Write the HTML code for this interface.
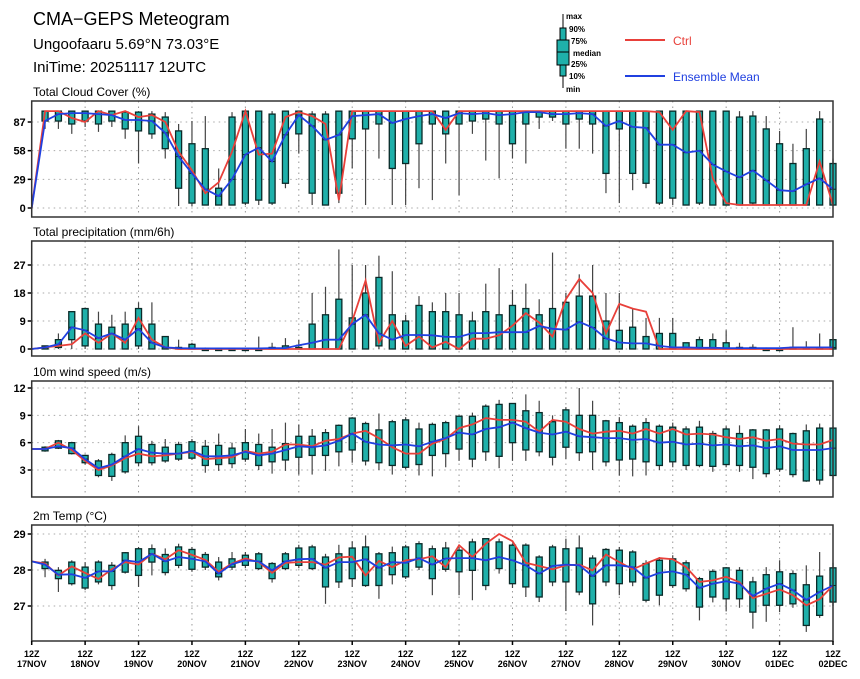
<!DOCTYPE html>
<html><head><meta charset="utf-8"><style>
body{margin:0;background:#fff;width:860px;height:679px;overflow:hidden}
svg{display:block;font-family:"Liberation Sans",sans-serif}
</style></head><body>
<svg id="c" width="860" height="679" viewBox="0 0 860 679">
<text x="33" y="25" font-size="18">CMA−GEPS Meteogram</text>
<text x="33" y="49" font-size="15">Ungoofaaru 5.69°N 73.03°E</text>
<text x="33" y="72" font-size="15">IniTime: 20251117 12UTC</text>
<g font-size="8" font-weight="bold">
<line x1="563" y1="14" x2="563" y2="88" stroke="#000" stroke-width="1"/>
<rect x="560" y="28" width="6" height="48" fill="#1fb0aa" stroke="#000"/>
<rect x="557" y="40" width="12" height="25" fill="#1fb0aa" stroke="#000"/>
<line x1="557" y1="52" x2="569" y2="52" stroke="#000"/>
<text x="566" y="19">max</text><text x="569" y="32">90%</text><text x="571" y="44">75%</text>
<text x="573" y="56">median</text><text x="571" y="67">25%</text><text x="569" y="79">10%</text><text x="566" y="92">min</text>
<line x1="625" y1="40" x2="665" y2="40" stroke="#e8403a" stroke-width="2"/>
<text x="673" y="45" font-size="12" font-weight="normal" fill="#e8403a">Ctrl</text>
<line x1="625" y1="76" x2="665" y2="76" stroke="#2040e0" stroke-width="2"/>
<text x="673" y="81" font-size="12" font-weight="normal" fill="#2040e0">Ensemble Mean</text>
</g>
</svg>
<script>
const dayLabels=["17NOV","18NOV","19NOV","20NOV","21NOV","22NOV","23NOV","24NOV","25NOV","26NOV","27NOV","28NOV","29NOV","30NOV","01DEC","02DEC"];
// Cloud cover
const cloudCtrl=[0,98,98,91,87,98,94,98,92,94,87,57,38,15,26,57,98,54,55,92,97,93,85,8,98,98,98,98,98,98,98,79,98,98,98,98,98,98,98,98,98,98,98,98,98,98,98,97,79,98,97,30,5,3,3,3,3,3,3,47,3];
const cloudMean=[0,88,95,96,96,95,94,89,89,88,76,52,35,19,12,29,54,61,47,74,94,83,69,74,93,94,95,86,90,93,95,91,96,95,96,94,95,97,97,95,95,96,95,83,88,82,81,64,64,56,58,44,37,31,38,28,18,17,24,30,19];
const cloudLo=[80,80,75,82,77,82,70,45,70,50,2,2,3,3,3,3,3,3,20,55,3,3,5,40,3,50,3,3,20,8,45,13,75,48,30,50,45,80,88,60,60,55,15,5,18,20,3,3,3,3,3,3,3,3,3,3,3,3,3,3];
const cloudQ1=[88,88,85,88,85,88,80,78,75,60,20,5,3,3,3,5,8,5,25,75,15,3,15,70,80,85,40,45,65,85,75,85,88,90,85,65,85,92,92,85,90,85,35,80,35,25,5,10,3,5,3,3,3,5,3,3,3,3,3,3];
const cloudQ3=[98,98,98,98,98,98,97,97,95,92,78,65,60,20,92,98,98,95,98,98,95,95,98,98,98,98,98,98,98,98,98,98,98,98,98,98,98,98,98,98,98,98,98,98,98,98,98,98,98,98,98,98,92,93,80,65,45,60,90,45];
const cloudHi=[98,98,98,98,98,98,98,98,98,97,85,88,93,40,97,98,98,98,98,98,98,98,98,98,98,98,98,98,98,98,98,98,98,98,98,98,98,98,98,98,98,98,98,98,98,98,98,98,98,98,98,98,98,98,93,78,65,80,98,50];
// Precipitation
const precCtrl=[0,0.5,1,1.5,5,2,5,2,10,3,0.5,0,0,0,0,0,0,0,0,0,0,0,0,0,9,22,2,9,1,4,0.5,2.3,0,3.3,3.3,4.4,7.5,11.5,8.5,4,16,22.5,18,5,14.5,13,12,0,0,0,0,0,0,0,0,0,0,0,0,0,0];
const precMean=[0,0.5,1.5,7,6,3.5,5,3,6.5,2,0.5,0.3,0.2,0.2,0.2,0.2,0.2,0.2,0.3,0.3,1.2,2,3,3,8,11,5,3,4.5,4.5,4.4,3.9,3.9,5.1,5.1,5.4,5.4,5.4,7.4,6.5,6.2,8.7,6.9,3.4,2.1,1.8,1.8,1,0.5,0.5,0.4,0.4,0.3,0.3,0.3,0.3,0.3,0.5,0.5,0.5,0.5];
const precLo=[0,0,0,0,0,0,0,0,0,0,0,0,0,0,0,0,0,0,0,0,0,0,0,0,0,0,0,0,0,0,0,0,0,0,0,0,0,0,0,0,0,0,0,0,0,0,0,0,0,0,0,0,0,0,0,0,0,0,0,0];
const precQ1=[0,0.5,3,1,0,0,0,1,0,0,0,0,0,0,0,0,0,0,0,0,0,0,0,0,0,1,0,0,0,0,0,0,0,0,0,0,0,0,0,0,0,0,0,0,0,0,0,0,0,0,0,0,0,0,0,0,0,0,0,0];
const precQ3=[1,3,12,13,8,7,8,13,8,4,0.5,1.5,0,0,0,0,0,0.5,1,0.5,8,11,16,10,18,23,11,9,14,12,12,11,9,12,11,14,13,11,13,15,17,17,9,6,7,4,5,5,2,3,3,2,0.5,0.5,0,0,0.5,0.5,0.5,3];
const precHi=[1,5,12,13,12,11,12,15,15,4,3,2,0.5,0.3,0,0,4,2,3.5,3,18,20,32,27,27,30,25,11,17,15,18,18,12,21,26,19,21,16,31,18,24,27,18,18,13,10,10,10,2,4,5,6,2,1.5,0.5,0,7,2.5,5,3];
// Wind speed
const windCtrl=[5.3,5.3,6.0,5.2,4.0,3.0,3.5,4.3,4.8,4.5,4.6,4.8,5.0,4.2,4.3,4.4,5.1,4.8,5.0,5.8,5.8,5.6,6.2,6.4,7.0,7.3,6.5,5.5,4.8,4.8,5.9,6.4,7.6,8.0,8.7,8.5,8.5,8.3,7.2,8.5,8.3,7.5,7.0,7.2,7.3,7.0,7.5,7.0,7.5,6.9,7.0,6.9,6.6,6.4,6.6,6.2,6.4,5.9,5.8,5.8,6.3];
const windMean=[5.3,5.3,5.6,5.4,4.2,3.2,3.6,4.5,5.3,4.9,4.8,4.8,5.1,4.5,4.5,4.6,5.0,4.6,4.8,5.2,5.6,5.5,5.7,6.2,7.0,6.1,5.8,5.7,5.8,5.6,6.1,6.5,7.1,6.9,7.5,7.7,8.2,7.6,7.1,6.9,7.2,6.7,6.6,6.5,6.5,6.3,6.4,6.0,6.1,5.8,5.9,5.7,5.8,5.6,5.7,5.4,5.6,5.2,5.2,5.2,5.4];
const windLo=[5.0,5.3,4.7,3.6,2.2,1.8,2.6,3.4,3.5,3.8,4.0,4.1,2.7,2.9,3.2,3.9,3.0,2.6,2.9,2.5,2.5,2.9,3.4,3.8,3.5,3.0,2.5,3.1,2.4,2.3,3.3,4.0,3.3,4.0,3.2,4.0,4.0,4.5,3.5,4.2,4.0,3.0,3.4,2.4,2.3,2.4,3.0,3.3,3.0,3.3,2.8,3.3,2.8,2.0,2.2,2.8,2.2,1.7,1.4,2.0];
const windQ1=[5.1,5.4,4.8,3.8,2.4,2.3,2.8,3.8,3.8,4.0,4.2,4.3,3.5,3.6,3.7,4.2,3.5,3.9,4.1,4.4,4.6,4.6,5.0,5.2,4.0,3.8,3.5,3.3,3.6,4.6,4.8,5.3,4.2,5.0,4.5,6.0,5.2,5.0,4.4,5.5,4.9,5.0,3.9,4.1,4.2,3.9,3.5,3.9,3.5,3.5,3.4,3.6,3.5,3.3,2.6,3.1,2.5,1.8,1.9,2.4];
const windQ3=[5.5,6.2,6.0,4.6,4.0,4.7,6.0,6.7,5.8,5.5,5.8,6.1,5.6,5.7,5.4,6.0,5.8,5.5,5.9,6.7,6.7,7.1,7.9,8.7,8.1,7.4,8.3,8.5,7.5,8.0,8.2,8.9,8.9,10.0,10.2,10.3,9.5,9.3,8.3,9.6,9.0,9.0,8.4,8.2,7.8,8.2,7.8,7.7,7.5,7.7,7.0,7.5,7.0,7.4,7.4,7.5,7.0,7.3,7.6,7.6];
const windHi=[5.6,6.3,6.1,4.7,4.2,4.9,6.8,7.8,6.2,6.4,6.1,6.4,6.3,7.0,6.0,7.5,7.0,7.5,8.2,8.0,7.5,7.5,8.0,8.8,8.3,9.2,8.5,8.8,8.2,8.2,8.4,9.0,9.3,10.2,10.7,10.3,11.3,10.6,9.0,9.9,12.0,10.6,8.5,8.8,8.0,8.7,8.0,8.2,7.8,8.4,7.3,7.8,7.9,7.5,7.5,7.9,7.1,8.0,8.1,7.8];
// 2m temperature
const tempCtrl=[28.24,28.18,27.85,28.1,27.92,27.75,28.02,28.22,28.15,28.45,28.3,28.55,28.42,28.28,27.95,28.18,28.32,28.22,27.92,28.2,28.22,28.22,28.15,28.35,28.37,27.85,28.25,28.08,28.27,28.3,28.38,28.08,28.69,28.36,28.73,29.0,28.8,28.2,28.11,28.02,28.13,28.15,27.99,28.43,28.22,28.02,28.18,28.33,28.3,28.08,27.67,27.71,27.81,27.66,27.22,27.34,27.46,27.3,27.02,27.19,27.57];
const tempMean=[28.24,28.15,27.87,27.88,27.78,27.96,27.96,28.27,28.22,28.45,28.24,28.36,28.31,28.24,27.9,28.16,28.27,28.24,27.99,28.24,28.3,28.31,28.06,28.22,28.22,28.3,28.06,28.22,28.2,28.33,28.15,28.32,28.33,28.33,28.27,28.36,28.27,28.13,27.9,28.11,28.15,28.13,27.83,28.13,28.13,28.08,27.78,27.92,27.96,27.87,27.5,27.62,27.69,27.62,27.28,27.48,27.62,27.44,27.17,27.39,27.57];
const tempLo=[27.8,27.39,27.57,27.44,27.6,27.45,27.9,27.53,27.85,27.85,28.05,27.95,28.0,27.71,28.0,28.05,28.0,27.65,28.0,28.05,28.0,27.06,27.5,27.53,27.53,27.2,27.6,27.75,28.0,27.3,27.95,27.3,27.16,27.44,27.9,27.5,27.25,27.11,27.55,26.86,27.3,26.46,27.55,27.3,27.55,27.1,27.02,27.5,27.4,26.6,27.1,26.85,26.95,26.37,26.56,26.83,26.95,26.28,26.67,27.0];
const tempQ1=[28.04,27.76,27.62,27.5,27.67,27.57,27.94,27.85,28.22,27.93,28.13,28.02,28.08,27.81,28.08,28.13,28.04,27.76,28.04,28.13,28.04,27.53,27.67,27.76,27.57,27.57,27.87,27.81,28.08,27.76,28.02,27.95,27.99,27.57,28.04,27.62,27.53,27.25,27.67,27.67,27.39,27.06,27.67,27.62,27.67,27.16,27.3,27.57,27.48,26.97,27.25,27.2,27.2,26.83,27.02,27.02,27.06,26.46,26.74,27.11];
const tempQ3=[28.22,27.99,28.22,28.08,28.22,28.13,28.48,28.59,28.59,28.43,28.64,28.57,28.43,28.22,28.31,28.41,28.45,28.18,28.45,28.61,28.64,28.36,28.45,28.61,28.64,28.45,28.48,28.64,28.73,28.59,28.61,28.55,28.78,28.87,28.78,28.69,28.69,28.36,28.64,28.59,28.61,28.33,28.57,28.55,28.5,28.18,28.27,28.31,28.2,27.76,27.96,28.06,27.99,27.67,27.87,27.95,27.9,27.59,27.83,28.06];
const tempHi=[28.31,28.08,28.27,28.22,28.27,28.22,28.5,28.64,28.71,28.6,28.73,28.64,28.5,28.36,28.5,28.5,28.5,28.22,28.5,28.7,28.7,28.45,28.7,28.8,28.96,28.5,28.65,28.7,28.8,28.68,28.78,28.64,28.87,28.87,28.87,28.74,28.74,28.41,28.7,28.87,28.96,28.41,28.61,28.64,28.55,28.27,28.36,28.41,28.27,27.81,28.02,28.08,28.08,27.81,28.08,28.27,27.99,28.13,28.5,28.2];

const NS='http://www.w3.org/2000/svg';
const svg=document.getElementById('c');
function mk(tag,attrs,parent){const e=document.createElementNS(NS,tag);for(const k in attrs)e.setAttribute(k,attrs[k]);(parent||svg).appendChild(e);return e;}
const X0=31.7,X1=833,NSTEP=60;
function xs(k){return X0+(X1-X0)*k/NSTEP;}
const panels=[
 {name:'cloud',title:'Total Cloud Cover (%)',top:101,bot:217,v0:0,p0:208,v1:87,p1:122,ticks:[0,29,58,87],ctrl:cloudCtrl,mean:cloudMean,lo:cloudLo,q1:cloudQ1,q3:cloudQ3,hi:cloudHi},
 {name:'precip',title:'Total precipitation (mm/6h)',top:241,bot:356,v0:0,p0:349,v1:27,p1:265,ticks:[0,9,18,27],ctrl:precCtrl,mean:precMean,lo:precLo,q1:precQ1,q3:precQ3,hi:precHi},
 {name:'wind',title:'10m wind speed (m/s)',top:381,bot:497,v0:3,p0:470,v1:12,p1:388,ticks:[3,6,9,12],ctrl:windCtrl,mean:windMean,lo:windLo,q1:windQ1,q3:windQ3,hi:windHi},
 {name:'temp',title:'2m Temp (°C)',top:525,bot:641,v0:27,p0:606,v1:29,p1:534,ticks:[27,28,29],ctrl:tempCtrl,mean:tempMean,lo:tempLo,q1:tempQ1,q3:tempQ3,hi:tempHi}
];
panels.forEach(P=>{
 const ys=v=>P.p0+(v-P.v0)*(P.p1-P.p0)/(P.v1-P.v0);
 const g=mk('g',{});
 
 
 const t=mk('text',{x:33,y:P.top-5,'font-size':12},g);t.textContent=P.title;
 
 
 P.ticks.forEach(v=>{
  const y=ys(v);
  mk('line',{x1:X0,x2:X1,y1:y,y2:y,stroke:'#aaa','stroke-dasharray':'1.5 4','stroke-width':1},g);
  mk('line',{x1:X0-4,x2:X0,y1:y,y2:y,stroke:'#000','stroke-width':1.5},g);
  const tl=mk('text',{x:X0-6,y:y+4,'font-size':11,'font-weight':'bold','text-anchor':'end'},g);tl.textContent=v;
  
  
 });
 for(let d=1;d<15;d++){const x=xs(d*4);mk('line',{x1:x,x2:x,y1:P.top,y2:P.bot,stroke:'#999','stroke-dasharray':'1.5 4','stroke-width':1},g);}
 for(let k=1;k<=NSTEP;k++){
  const x=xs(k),i=k-1;
  const w=mk('line',{x1:x,x2:x,y1:ys(P.lo[i]),y2:ys(P.hi[i]),stroke:'#444','stroke-width':1.2},g);
  
  
  const ya=ys(P.q3[i]),yb=ys(P.q1[i]);
  const b=mk('rect',{x:x-3,y:ya,width:6,height:Math.max(1.5,yb-ya),fill:'#1fb0aa',stroke:'#0a2a28','stroke-width':1.3},g);
  
  
  const ym=ys(P.mean[k]);
  mk('line',{x1:x-3,x2:x+3,y1:ym,y2:ym,stroke:'#0a2a28','stroke-width':1},g);
 }
 const pts=a=>a.map((v,k)=>xs(k).toFixed(1)+','+ys(v).toFixed(1)).join(' ');
 const cl=mk('polyline',{points:pts(P.ctrl),fill:'none',stroke:'#e8403a','stroke-width':1.8},g);
 
 
 const ml=mk('polyline',{points:pts(P.mean),fill:'none',stroke:'#2040e0','stroke-width':1.8},g);
 
 
 const fr=mk('rect',{x:X0,y:P.top,width:X1-X0,height:P.bot-P.top,fill:'none',stroke:'#333','stroke-width':1.5},g);
 
 
});
dayLabels.forEach((d,i)=>{
 const x=xs(i*4);
 mk('line',{x1:x,x2:x,y1:641,y2:645,stroke:'#000','stroke-width':1.5});
 const a=mk('text',{x:x,y:657,'font-size':9,'font-weight':'bold','text-anchor':'middle'});a.textContent='12Z';
 
 
 const b=mk('text',{x:x,y:667,'font-size':9,'font-weight':'bold','text-anchor':'middle'});b.textContent=d;
 
 
});
</script>
</body></html>
